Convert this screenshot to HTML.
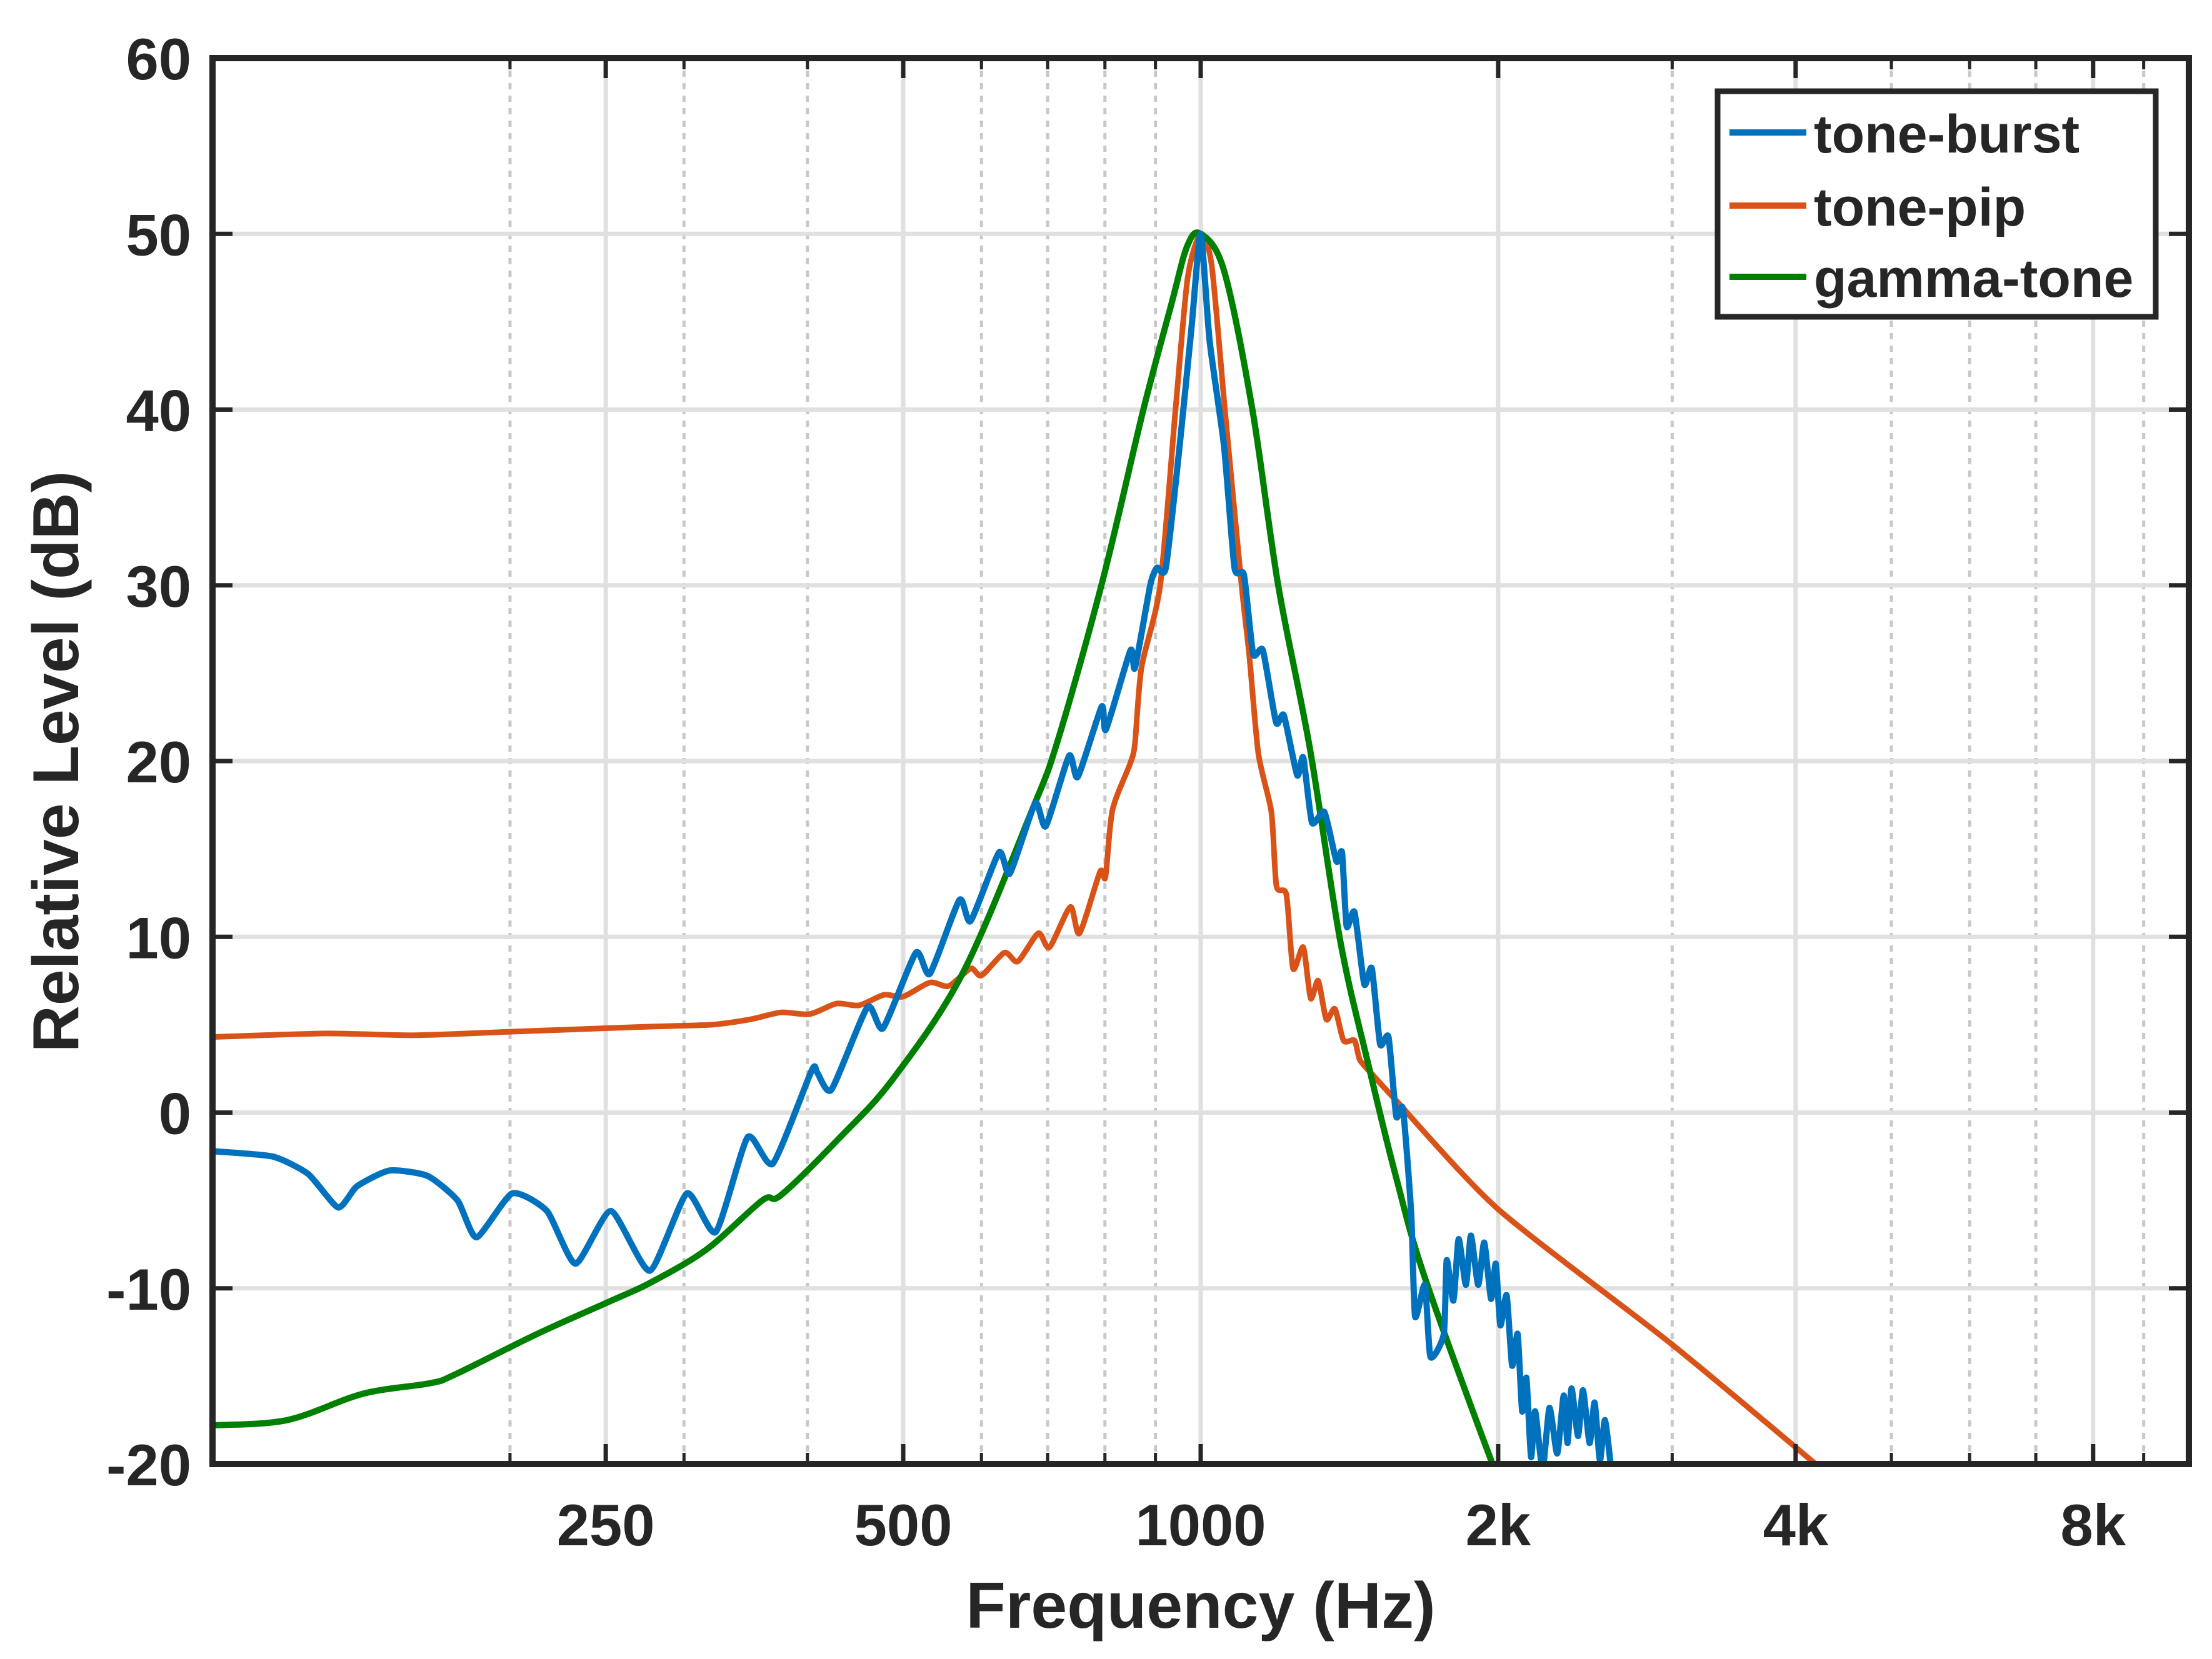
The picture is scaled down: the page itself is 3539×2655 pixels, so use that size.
<!DOCTYPE html>
<html><head><meta charset="utf-8"><style>
html,body{margin:0;padding:0;background:#fff;}
svg{display:block;}
text{font-family:"Liberation Sans",Arial,sans-serif;font-weight:bold;fill:#262626;}
</style></head><body>
<svg id="chart" width="3539" height="2655" viewBox="0 0 3539 2655" xmlns="http://www.w3.org/2000/svg">
<defs><clipPath id="plotclip"><rect x="340" y="93" width="3162" height="2250"/></clipPath></defs>
<rect width="3539" height="2655" fill="#fff"/>
<g id="grid"></g>
<g id="series" clip-path="url(#plotclip)"></g>
<g id="axes"></g>
<text x="1921" y="2605" text-anchor="middle" font-size="104">Frequency (Hz)</text>
<text transform="translate(125,1219) rotate(-90)" text-anchor="middle" font-size="104">Relative Level (dB)</text>
<g>
<rect x="2748" y="146" width="701" height="361" fill="#fff" stroke="#262626" stroke-width="9"/>
<g><line x1="2767" y1="212" x2="2890" y2="212" stroke="#0072BD" stroke-width="10"/><text x="2902" y="244" font-size="86" fill="#000">tone-burst</text></g>
<g><line x1="2767" y1="329" x2="2890" y2="329" stroke="#D95319" stroke-width="10"/><text x="2902" y="361" font-size="86" fill="#000">tone-pip</text></g>
<g><line x1="2767" y1="443" x2="2890" y2="443" stroke="#008000" stroke-width="10"/><text x="2902" y="475" font-size="86" fill="#000">gamma-tone</text></g>
</g>
</svg>
<script>
const yTicks=[-20,-10,0,10,20,30,40,50,60];
const xTicks=[250,500,1000,2000,4000,8000];
const xTickLabels=["250","500","1000","2k","4k","8k"];
const xMinor=[200,300,400,600,700,800,900,3000,5000,6000,7000,9000];
const burstF=[100,115,125,134,140,151,165,177,185,201,218,233,253,277,302,323,348,369,404,409,423,460,477,515,532,570,585,625,641,680,697,736,751,794,802,849,858,889,903,922,952,979,1000,1021,1056,1082,1106,1130,1156,1192,1214,1252,1270,1296,1334,1372,1390,1405,1431,1464,1490,1519,1549,1577,1602,1633,1648,1686,1708,1762,1774,1802,1824,1855,1877,1909,1936,1967,1989,2010,2040,2066,2093,2115,2136,2159,2180,2218,2254,2295,2330,2351,2373,2409,2437,2475,2504,2535,2565,2605];
const burstDb=[-2.2,-2.5,-3.5,-5.4,-4.2,-3.3,-3.6,-5.0,-7.1,-4.6,-5.6,-8.6,-5.6,-9.0,-4.6,-6.8,-1.4,-2.9,2.4,2.3,1.3,6.0,4.8,9.1,7.9,12.1,10.9,14.8,13.6,17.6,16.3,20.3,19.1,23.1,21.8,26.3,25.3,30.0,31.0,31.0,37.9,44.7,50,43.9,37.9,31.0,30.6,26.1,26.3,22.2,22.6,19.2,20.2,16.5,17.1,14.3,14.8,10.6,11.4,7.3,8.2,3.9,4.3,-0.2,0.2,-5.7,-11.6,-9.8,-13.9,-12.6,-8.4,-10.7,-7.2,-9.8,-7.0,-9.8,-7.4,-10.6,-8.6,-12.1,-10.4,-14.4,-12.6,-17.0,-15.1,-19.6,-17.0,-20.3,-16.8,-19.4,-16.1,-18.8,-15.7,-18.4,-15.8,-18.8,-16.5,-19.8,-17.5,-20.5];
const pipF=[100,130,160,200,250,280,320,350,376,402,428,451,478,500,532,556,585,600,633,653,685,703,738,754,791,801,814,849,858,871,910,943,970,1000,1026,1058,1100,1120,1144,1179,1193,1221,1240,1270,1292,1315,1340,1367,1395,1431,1449,1490,1570,2000,3000,4190,4500];
const pipDb=[4.3,4.5,4.4,4.6,4.8,4.9,5.0,5.3,5.7,5.6,6.2,6.1,6.7,6.6,7.4,7.2,8.2,7.8,9.1,8.6,10.2,9.4,11.7,10.2,13.7,13.4,17.2,19.9,21.0,25.3,30,40,47.5,50,48.2,40,30,26.0,20.4,17.1,12.9,12.4,8.2,9.4,6.5,7.5,5.3,5.9,4.1,4.1,3.0,2.2,0.8,-5.5,-13.2,-20,-21.5];
const gammaF=[100,119,142,166,176,213,251,277,316,360,376,430,488,574,675,717,796,875,934,969,1000,1056,1128,1198,1290,1384,1477,1577,1686,1983,2050];
const gammaDb=[-17.8,-17.5,-16.0,-15.4,-14.9,-12.6,-10.8,-9.7,-7.8,-5.0,-4.7,-1.5,1.9,7.9,17.2,21.2,30.3,40,46,49.3,50,47.9,40,30,20.7,9.8,2.8,-3.7,-9.4,-20.3,-22];
const X0=340,X1=3502,Y0=93,Y1=2343;
function xs(f){return X0+(Math.log10(f)-2)/2*(X1-X0);}
function ys(v){return Y1-(v+20)/80*(Y1-Y0);}
const NS="http://www.w3.org/2000/svg";
function mk(tag,attrs,parent){const e=document.createElementNS(NS,tag);for(const k in attrs)e.setAttribute(k,attrs[k]);parent.appendChild(e);return e;}
const grid=document.getElementById('grid'),axes=document.getElementById('axes'),series=document.getElementById('series');
xMinor.forEach(f=>{const l=mk('line',{x1:xs(f),x2:xs(f),y1:Y0,y2:Y1,stroke:'#c8c8c8','stroke-width':5,'stroke-dasharray':'10 10'},grid);


const t1=mk('line',{x1:xs(f),x2:xs(f),y1:Y1,y2:Y1-18,stroke:'#262626','stroke-width':5},axes);


const t2=mk('line',{x1:xs(f),x2:xs(f),y1:Y0,y2:Y0+18,stroke:'#262626','stroke-width':5},axes);

});
xTicks.forEach((f,i)=>{const l=mk('line',{x1:xs(f),x2:xs(f),y1:Y0,y2:Y1,stroke:'#e0e0e0','stroke-width':7},grid);


const t1=mk('line',{x1:xs(f),x2:xs(f),y1:Y1,y2:Y1-32,stroke:'#262626','stroke-width':7},axes);


const t2=mk('line',{x1:xs(f),x2:xs(f),y1:Y0,y2:Y0+32,stroke:'#262626','stroke-width':7},axes);


const tx=mk('text',{x:xs(f),y:2473,'text-anchor':'middle','font-size':94},axes);tx.textContent=xTickLabels[i];

});
yTicks.forEach(v=>{if(v>-20&&v<60){const l=mk('line',{x1:X0,x2:X1,y1:ys(v),y2:ys(v),stroke:'#e0e0e0','stroke-width':7},grid);

}
const t1=mk('line',{x1:X0,x2:X0+32,y1:ys(v),y2:ys(v),stroke:'#262626','stroke-width':7},axes);


const t2=mk('line',{x1:X1,x2:X1-32,y1:ys(v),y2:ys(v),stroke:'#262626','stroke-width':7},axes);


const tx=mk('text',{x:306,y:ys(v)+34,'text-anchor':'end','font-size':94},axes);tx.textContent=String(v);

});
const frame=mk('rect',{x:X0,y:Y0,width:X1-X0,height:Y1-Y0,fill:'none',stroke:'#262626','stroke-width':10},axes);


function smoothPath(P,t){let d='M'+P[0][0].toFixed(1)+','+P[0][1].toFixed(1);
for(let i=0;i<P.length-1;i++){const p0=P[Math.max(0,i-1)],p1=P[i],p2=P[i+1],p3=P[Math.min(P.length-1,i+2)];
const c1x=p1[0]+(p2[0]-p0[0])*t,c1y=p1[1]+(p2[1]-p0[1])*t,c2x=p2[0]-(p3[0]-p1[0])*t,c2y=p2[1]-(p3[1]-p1[1])*t;
d+=' C'+c1x.toFixed(1)+','+c1y.toFixed(1)+' '+c2x.toFixed(1)+','+c2y.toFixed(1)+' '+p2[0].toFixed(1)+','+p2[1].toFixed(1);}
return d;}
function draw(F,D,color,w,name,t){const P=F.map((f,i)=>[xs(f),ys(D[i])]);
const p=mk('path',{d:smoothPath(P,t),fill:'none',stroke:color,'stroke-width':w,'stroke-linejoin':'round','stroke-linecap':'round'},series);

}
draw(pipF,pipDb,'#D95319',9,'tone-pip-line',0.12);
draw(gammaF,gammaDb,'#008000',10,'gamma-tone-line',0.16);
draw(burstF,burstDb,'#0072BD',10,'tone-burst-line',0.1);
</script>
</body></html>
